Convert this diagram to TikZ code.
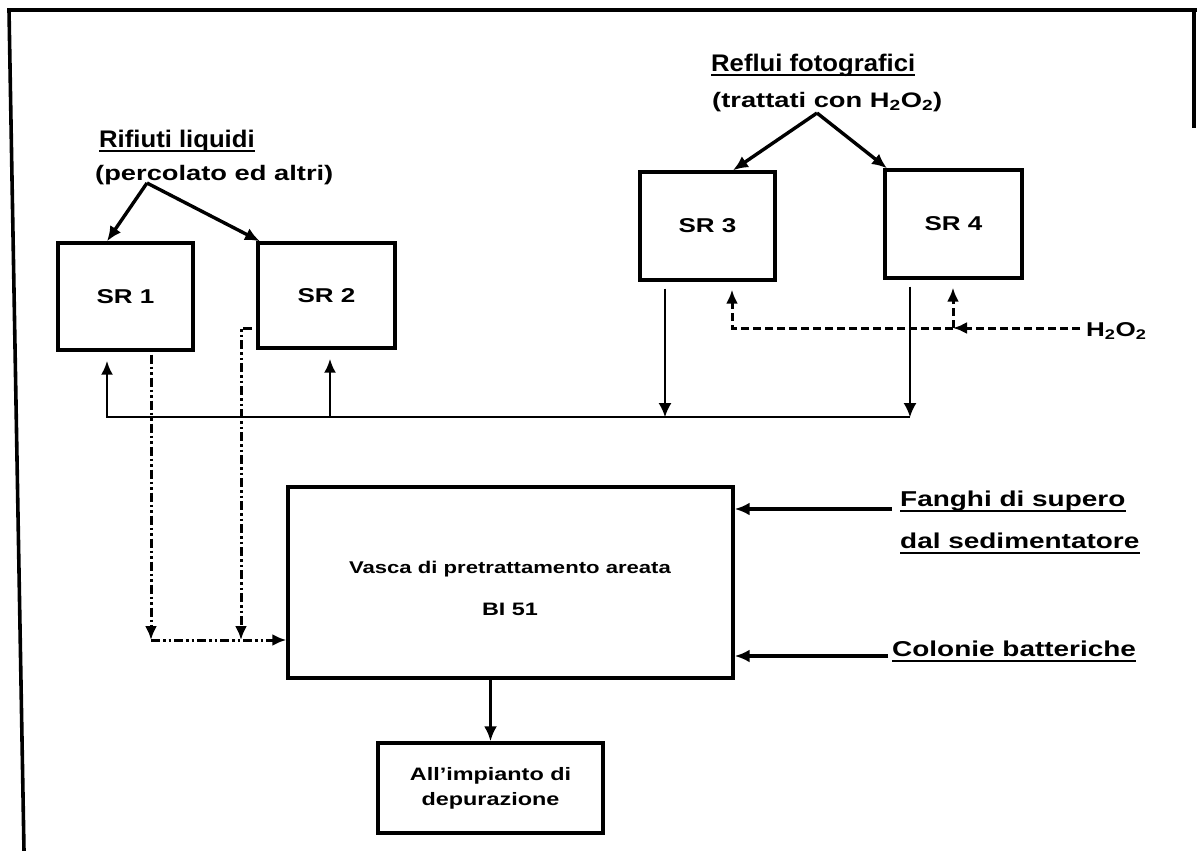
\documentclass[tikz,border=0pt]{standalone}
\usepackage{fontspec}
\setmainfont[FakeStretch=1.3,Ligatures=NoCommon]{Liberation Sans}
\newfontfamily\headfont[FakeStretch=1.07,Ligatures=NoCommon]{Liberation Sans}
\usetikzlibrary{arrows.meta,calc}
\tikzset{
  sbox/.style={draw,line width=3.4pt,inner sep=0pt,font=\bfseries\fontsize{20}{24}\selectfont},
  lab/.style={inner sep=0pt,font=\bfseries\fontsize{21}{26}\selectfont,anchor=base west},
  head/.style={inner sep=0pt,font=\headfont\bfseries\fontsize{24}{28}\selectfont,anchor=base west},
  side/.style={inner sep=0pt,font=\bfseries\fontsize{21.5}{26}\selectfont,anchor=base west},
  feed/.style={line width=3.4pt,-{Latex[length=15pt,width=13pt]}},
  ret/.style={line width=2.6pt},
  rettip/.style={-{Latex[length=14pt,width=12pt]}},
  thinarr/.style={line width=1.6pt,-{Latex[length=14pt,width=13pt]}},
  hdash/.style={line width=3pt,dash pattern=on 8pt off 4pt,-{Latex[length=14pt,width=12pt]}},
  dd/.style={line width=3pt,dash pattern=on 9pt off 3pt on 2.5pt off 3pt on 2.5pt off 3pt,-{Latex[length=14pt,width=12pt]}},
  ul/.style={line width=2.4pt},
  frame/.style={line width=3.6pt}
}
\begin{document}
\begin{tikzpicture}[x=1pt,y=-1pt]
\useasboundingbox (0,0) rectangle (1197,851);
% frame
\draw[frame] (24,851) -- (9,10) -- (1197,10);
\draw[frame] (1194,10) -- (1194,128);

% source labels
\node[head] (rl) at (99,147) {Rifiuti liquidi};
\node[lab] (pe) at (95,180) {(percolato ed altri)};
\draw[ul] ([yshift=-4pt]rl.base west) -- ([yshift=-4pt]rl.base east);
\node[head] (rf) at (711,71) {Reflui fotografici};
\node[lab] (tr) at (712,107) {(trattati con H\textsubscript{2}O\textsubscript{2})};
\draw[ul] ([yshift=-4pt]rf.base west) -- ([yshift=-4pt]rf.base east);

% SR boxes
\node[sbox,minimum width=135pt,minimum height=107pt] (SR1) at (125.5,296.5) {SR 1};
\node[sbox,minimum width=137pt,minimum height=105pt] (SR2) at (326.5,295.5) {SR 2};
\node[sbox,minimum width=135pt,minimum height=108pt] (SR3) at (707.5,226) {SR 3};
\node[sbox,minimum width=137pt,minimum height=108pt] (SR4) at (953.5,224) {SR 4};

% feeds to SR
\coordinate (A1) at (147,183);
\draw[feed] (A1) -- (SR1.north -| 107,0);
\draw[feed] (A1) -- (SR2.north -| 260,0);
\coordinate (A2) at (817,113);
\draw[feed] (A2) -- (SR3.north -| 733,0);
\draw[feed] (A2) -- (SR4.north -| 887,0);

% return line
\coordinate (R1) at (107,417);
\coordinate (R2) at (330,417);
\coordinate (R3) at (665,417);
\coordinate (R4) at (910,417);
\draw[thinarr] ([yshift=-7pt]SR3.south -| R3) -- (R3);
\draw[thinarr] ([yshift=-7pt]SR4.south -| R4) -- (R4);
\draw[ret,rettip] (R4) -- (R1) -- ([yshift=-9pt]SR1.south -| R1);
\draw[ret,rettip] (R2) -- ([yshift=-9pt]SR2.south -| R2);

% H2O2
\node[inner sep=0pt,font=\bfseries\fontsize{20}{24}\selectfont,anchor=west] (H) at (1086,331) {H\textsubscript{2}O\textsubscript{2}};
\coordinate (D4) at (953,328);
\coordinate (D3) at (732,328);
\draw[hdash] ([xshift=-6pt]H.west |- D4) -- (D4);
\draw[hdash] (D4) -- (D3) -- ([yshift=-8pt]SR3.south -| D3);
\draw[hdash] (D4) -- ([yshift=-8pt]SR4.south -| D4);

% main tank
\node[sbox,minimum width=445pt,minimum height=191pt] (BI) at (510.5,582.5) {};
\node[inner sep=0pt,font=\bfseries\fontsize{17}{20}\selectfont,anchor=base] (va) at (510,573) {Vasca di pretrattamento areata};
\node[inner sep=0pt,font=\bfseries\fontsize{18}{20}\selectfont,anchor=base] (bi) at (510,615) {BI 51};

% dash-dot outlets
\coordinate (E1) at (151,640);
\coordinate (E2) at (241,640);
\coordinate (o2) at (252,328);
\draw[dd] ([yshift=-3pt]SR1.south -| E1) -- (E1);
\draw[dd] (o2) -- (o2 -| E2) -- (E2);
\draw[dd] (E1) -- (BI.west |- E1);

% side inputs
\node[side] (F1) at (900,506) {Fanghi di supero};
\node[side] (F2) at (900,548) {dal sedimentatore};
\node[side] (F3) at (892,656) {Colonie batteriche};
\draw[ul] ([yshift=-5pt]F1.base west) -- ([yshift=-5pt]F1.base east);
\draw[ul] ([yshift=-5pt]F2.base west) -- ([yshift=-5pt]F2.base east);
\draw[ul] ([yshift=-5pt]F3.base west) -- ([yshift=-5pt]F3.base east);
\coordinate (f1) at (892,509);
\coordinate (f3) at (888,656);
\draw[feed] (f1) -- (BI.east |- f1);
\draw[feed] (f3) -- (BI.east |- f3);

% outlet
\node[sbox,minimum width=225pt,minimum height=90pt,align=center,font=\bfseries\fontsize{18}{25}\selectfont] (dep) at (490.5,788) {All’impianto di\\depurazione};
\draw[feed] (BI.south -| dep.north) -- (dep.north);
\end{tikzpicture}
\end{document}
